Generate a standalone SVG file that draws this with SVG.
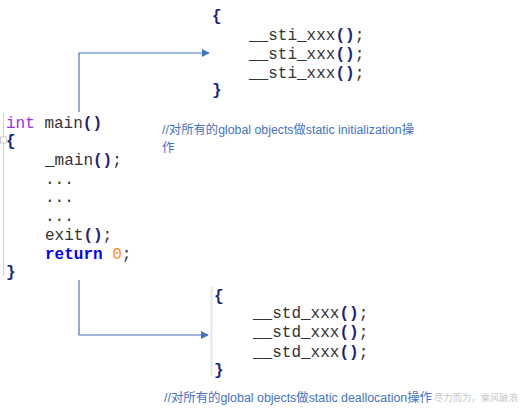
<svg xmlns="http://www.w3.org/2000/svg" width="524" height="411" viewBox="0 0 524 411">
<defs>
<style>
.code{font-family:"Liberation Mono","Courier New",monospace;font-size:16px;fill:#333}
.br{font-weight:bold;fill:#1a237e}
.kw{fill:#a030e8}
.ret{font-weight:bold;fill:#0000ff}
.num{fill:#ff8c1a}
.cm{font-family:"Liberation Sans","Noto Sans CJK SC",sans-serif;font-size:12.5px;fill:#4472c4}
.wm{font-family:"Noto Sans CJK SC",sans-serif;font-size:9.5px;fill:#c8c8c8}
.conn{fill:none;stroke:#4472c4;stroke-width:1.2}
.gut{stroke:#d0d0d0;stroke-width:1;fill:none}
</style>
<marker id="ah" viewBox="0 0 10 10" refX="9" refY="5" markerWidth="8" markerHeight="8" markerUnits="userSpaceOnUse" orient="auto">
<path d="M0,0 L10,5 L0,10 z" fill="#4472c4"/>
</marker>
</defs>
<rect width="524" height="411" fill="#fff"/>

<g id="main-func">
<line class="gut" x1="3.5" y1="113" x2="3.5" y2="276"/>
<rect x="0.5" y="137" width="6" height="6" fill="#fff" stroke="#bbb" stroke-width="0.8"/>
<text class="code" x="6" y="128"><tspan class="kw">int</tspan> main<tspan class="br">()</tspan></text>
<text class="code br" x="6" y="146">{</text>
<text class="code" x="45" y="165">_main<tspan class="br">()</tspan>;</text>
<text class="code" x="45" y="184">...</text>
<text class="code" x="45" y="202">...</text>
<text class="code" x="45" y="221">...</text>
<text class="code" x="45" y="240">exit<tspan class="br">()</tspan>;</text>
<text class="code" x="45" y="259"><tspan class="ret">return</tspan> <tspan class="num">0</tspan>;</text>
<text class="code br" x="6" y="277">}</text>
</g>

<g id="sti-block">
<text class="code br" x="212" y="21">{</text>
<text class="code" x="249" y="40">__sti_xxx<tspan class="br">()</tspan>;</text>
<text class="code" x="249" y="59">__sti_xxx<tspan class="br">()</tspan>;</text>
<text class="code" x="249" y="78">__sti_xxx<tspan class="br">()</tspan>;</text>
<text class="code br" x="212" y="95">}</text>
</g>

<g id="std-block">
<line x1="211.5" y1="287" x2="211.5" y2="376" stroke="#e6e6e6" stroke-width="2"/>
<text class="code br" x="214" y="301">{</text>
<text class="code" x="253" y="318">__std_xxx<tspan class="br">()</tspan>;</text>
<text class="code" x="253" y="337">__std_xxx<tspan class="br">()</tspan>;</text>
<text class="code" x="253" y="357">__std_xxx<tspan class="br">()</tspan>;</text>
<text class="code br" x="214" y="375">}</text>
</g>

<g id="comment-init">
<text class="cm" x="162" y="134" textLength="252" lengthAdjust="spacingAndGlyphs">//对所有的global objects做static initialization操</text>
<text class="cm" x="162" y="152">作</text>
</g>

<g id="comment-dealloc">
<text class="cm" x="164" y="402" textLength="268" lengthAdjust="spacingAndGlyphs">//对所有的global objects做static deallocation操作</text>
</g>

<g id="watermark">
<text class="wm" x="434" y="401" textLength="84" lengthAdjust="spacingAndGlyphs">尽力而为，乘风破浪</text>
</g>

<g id="connectors">
<path class="conn" d="M79,112 V53 H209" marker-end="url(#ah)"/>
<path class="conn" d="M79,280 V335 H208" marker-end="url(#ah)"/>
</g>
</svg>
